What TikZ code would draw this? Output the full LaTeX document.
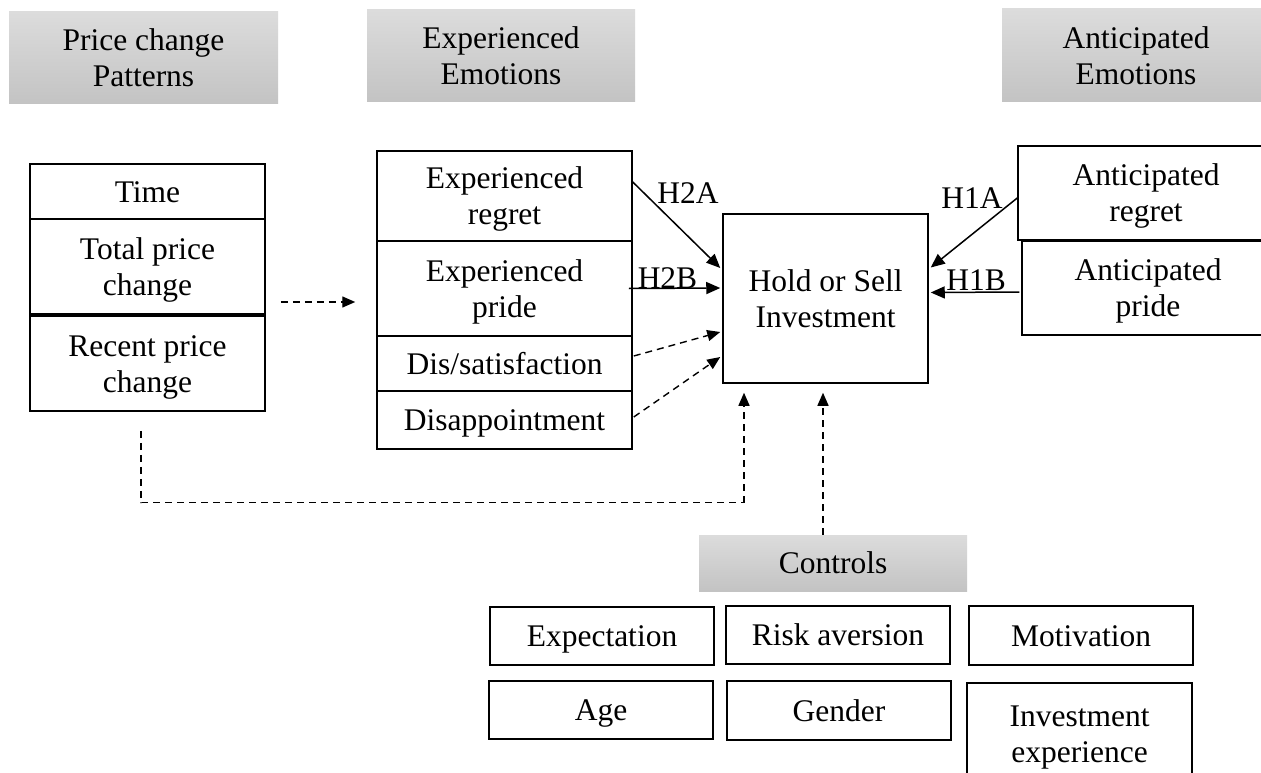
\documentclass[tikz,border=0pt]{standalone}
\usepackage{fontspec}
\setmainfont{Liberation Serif}
\usetikzlibrary{arrows.meta,calc}
\definecolor{hdrtop}{HTML}{DCDCDC}
\definecolor{hdrbot}{HTML}{C3C3C3}
\newcommand\wstrut{\rule[-0.216em]{0pt}{1.107em}}
\begin{document}
\begin{tikzpicture}[x=1pt,y=-1pt,
  every node/.style={font=\fontsize{31.5}{36}\selectfont, align=center, inner sep=0pt},
  hdr/.style={top color=hdrtop, bottom color=hdrbot, draw=none},
  box/.style={draw, line width=1.5pt},
  solidarr/.style={line width=1.5pt, -{Triangle[length=14pt,width=12pt]}},
  dasharr/.style={line width=1.4pt, dash pattern=on 7pt off 5pt, -{Triangle[length=13pt,width=11pt]}},
  dashline/.style={line width=1.4pt, dash pattern=on 7pt off 5pt},
  lbl/.style={anchor=base}]
\useasboundingbox (0,0) rectangle (1261,773);
\fill[white] (0,0) rectangle (1261,773);

% headers
\node[hdr, minimum width=269pt, minimum height=92pt] (hdrP) at (143.5,58) {\wstrut Price change\\\wstrut Patterns};
\node[hdr, minimum width=268pt, minimum height=92pt] (hdrE) at (501,56) {\wstrut Experienced\\\wstrut Emotions};
\node[hdr, minimum width=268pt, minimum height=93pt] (hdrA) at (1136,55.5) {\wstrut Anticipated\\\wstrut Emotions};
\node[hdr, minimum width=268pt, minimum height=56pt] (hdrC) at (833,563) {\wstrut Controls};

% price change patterns
\node[box, minimum width=235pt, minimum height=55pt] (time) at (147.5,191.5) {\wstrut Time};
\node[box, minimum width=235pt, minimum height=95pt] (total) at (147.5,266.5) {\wstrut Total price\\\wstrut change};
\node[box, minimum width=235pt, minimum height=95pt] (recent) at (147.5,363.5) {\wstrut Recent price\\\wstrut change};

% experienced emotions
\node[box, minimum width=255pt, minimum height=90pt] (ereg) at (504.5,196) {\wstrut Experienced\\\wstrut regret};
\node[box, minimum width=255pt, minimum height=95pt] (epride) at (504.5,288.5) {\wstrut Experienced\\\wstrut pride};
\node[box, minimum width=255pt, minimum height=55pt] (dissat) at (504.5,363.5) {\wstrut Dis/satisfaction};
\node[box, minimum width=255pt, minimum height=58pt] (disapp) at (504.5,420) {\wstrut Disappointment};

% outcome
\node[box, minimum width=205pt, minimum height=169pt] (hold) at (825.5,298.5) {\wstrut Hold or Sell\\\wstrut Investment};

% anticipated emotions
\node[box, minimum width=256pt, minimum height=94pt] (areg) at (1146,193) {\wstrut Anticipated\\\wstrut regret};
\node[box, minimum width=252pt, minimum height=94pt] (apride) at (1148,288) {\wstrut Anticipated\\\wstrut pride};

% controls
\node[box, minimum width=224pt, minimum height=58pt] (expect) at (602,636) {\wstrut Expectation};
\node[box, minimum width=224pt, minimum height=58pt] (risk) at (838,635) {\wstrut Risk aversion};
\node[box, minimum width=224pt, minimum height=59pt] (motiv) at (1081,635.5) {\wstrut Motivation};
\node[box, minimum width=224pt, minimum height=58pt] (age) at (601,710) {\wstrut Age};
\node[box, minimum width=224pt, minimum height=59pt] (gender) at (839,710.5) {\wstrut Gender};
\node[box, minimum width=225pt, minimum height=102pt] (invest) at (1079.5,734) {\wstrut Investment\\\wstrut experience};

% connectors
\draw[dasharr] ($(total.east)+(15,35.5)$) -- ($(epride.west)+(-21,13.5)$);
\draw[solidarr] ($(ereg.east)+(0,-14)$) -- ($(hold.west)+(-2,-30.5)$);
\draw[solidarr] ($(epride.east)+(-4,0)$) -- ($(hold.west)+(-2,-10.5)$);
\draw[solidarr] ($(areg.west)+(0,5)$) -- ($(hold.east)+(2,-31)$);
\draw[solidarr] ($(apride.west)+(-2,4)$) -- ($(hold.east)+(2,-6)$);
\draw[dasharr] ($(dissat.east)+(1,-7.5)$) -- ($(hold.west)+(-2,33.5)$);
\draw[dasharr] ($(disapp.east)+(1,-3)$) -- ($(hold.west)+(-2,58.5)$);
\coordinate (c1) at ($(recent.south)+(-6.5,19)$);
\coordinate (c2) at ($(c1)+(0,72)$);
\coordinate (c3) at ($(hold.south)+(-81.5,119)$);
\draw[dashline] (c1) -- (c2) -- (c3);
\draw[dasharr] (c3) -- ($(hold.south)+(-81.5,9)$);
\draw[dasharr] ($(hdrC.north)+(-10,0)$) -- ($(hold.south)+(-2.5,9)$);

% hypothesis labels
\node[lbl] (h2a) at (688,204) {H2A};
\node[lbl] (h2b) at (667.5,288) {H2B};
\node[lbl] (h1a) at (972,208) {H1A};
\node[lbl] (h1b) at (976,290) {H1B};
\end{tikzpicture}
\end{document}
